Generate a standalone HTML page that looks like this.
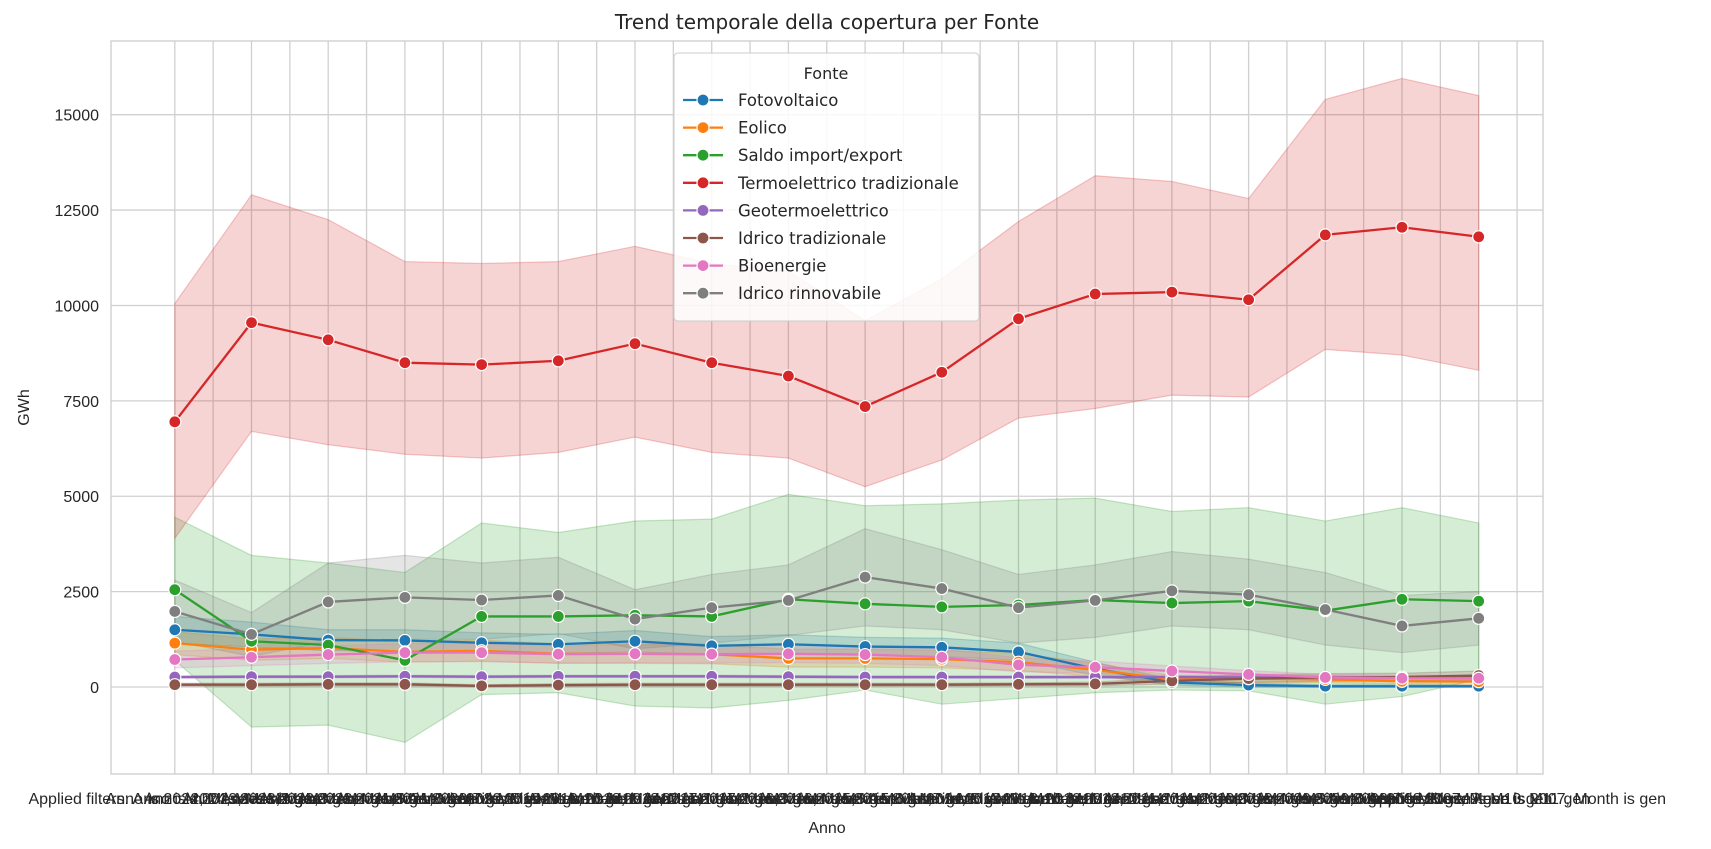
<!DOCTYPE html>
<html><head><meta charset="utf-8">
<style>
html,body{margin:0;padding:0;background:#fff;}
svg{display:block;font-family:"Liberation Sans",Arial,sans-serif;}
</style></head>
<body>
<svg id="chart" width="1711" height="849"></svg>
<script>
const categories=["2024","2023","2022","2021","2020","2019","2018","2017","2016","2015","2014","2013","2012","2011","2010","2009","2008","2007"];
const seriesNames=["Fotovoltaico","Eolico","Saldo import/export","Termoelettrico tradizionale","Geotermoelettrico","Idrico tradizionale","Bioenergie","Idrico rinnovabile"];
const colors=["#1f77b4","#ff7f0e","#2ca02c","#d62728","#9467bd","#8c564b","#e377c2","#7f7f7f"];
const fotoVals=[1500,1380,1230,1220,1160,1120,1200,1080,1120,1060,1040,920,480,120,50,20,20,20];
const fotoLo=[1150,1050,950,950,900,880,920,850,870,830,800,700,300,50,0,-10,-10,-10];
const fotoHi=[1850,1700,1500,1500,1420,1380,1480,1320,1370,1300,1280,1150,650,200,100,60,60,60];
const eolVals=[1150,980,1020,920,950,870,870,860,750,750,730,650,450,200,220,200,150,140];
const eolLo=[850,700,750,650,680,620,620,610,520,520,500,430,280,100,120,110,80,70];
const eolHi=[1450,1260,1300,1200,1230,1130,1130,1110,990,990,960,880,620,300,320,300,230,210];
const saldoVals=[2550,1200,1100,700,1850,1850,1880,1850,2300,2180,2100,2150,2280,2200,2250,2000,2300,2250];
const saldoLo=[700,-1050,-1000,-1450,-200,-150,-500,-550,-350,-80,-450,-300,-150,-80,-100,-450,-250,200];
const saldoHi=[4450,3450,3250,3000,4300,4050,4350,4400,5050,4750,4800,4900,4950,4600,4700,4350,4700,4300];
const termoVals=[6950,9550,9100,8500,8450,8550,9000,8500,8150,7350,8250,9650,10300,10350,10150,11850,12050,11800];
const termoLo=[3900,6700,6350,6100,6000,6150,6550,6150,6000,5250,5950,7050,7300,7650,7600,8850,8700,8300];
const termoHi=[10050,12900,12250,11150,11100,11150,11550,11100,10900,9600,10700,12200,13400,13250,12800,15400,15950,15500];
const geoVals=[260,270,270,280,270,280,280,280,270,260,260,260,260,260,250,250,250,250];
const geoLo=[230,240,240,250,240,250,250,250,240,230,230,230,230,230,220,220,220,220];
const geoHi=[290,300,300,310,300,310,310,310,300,290,290,290,290,290,280,280,280,280];
const idtVals=[60,60,70,70,30,50,60,60,60,60,60,70,80,160,220,250,260,300];
const idtLo=[20,20,30,30,0,10,20,20,20,20,20,30,30,80,120,150,160,180];
const idtHi=[100,100,110,110,60,90,100,100,100,100,100,110,130,240,320,350,360,420];
const bioVals=[720,780,850,900,900,860,870,860,870,850,780,580,520,420,330,250,230,230];
const bioLo=[500,560,620,660,660,630,640,630,640,620,560,400,360,290,230,170,150,150];
const bioHi=[940,1000,1080,1140,1140,1090,1100,1090,1100,1080,1000,760,680,550,430,330,310,310];
const idrVals=[1980,1380,2230,2350,2280,2400,1780,2080,2270,2880,2580,2080,2270,2520,2420,2030,1600,1800];
const idrLo=[1200,800,1200,1250,1250,1400,1000,1150,1350,1600,1500,1150,1300,1600,1500,1100,900,1100];
const idrHi=[2800,1950,3250,3450,3250,3400,2550,2950,3200,4150,3600,2950,3200,3550,3350,3000,2400,2500];
const yTicks=[0,2500,5000,7500,10000,12500,15000];
const xTickLabels=[];
for(let i=0;i<36;i++){
  const yr=2024-Math.floor(i/2);
  xTickLabels.push(i===0?"Applied filters: Anno is "+yr+", Mese is gen":(i===35?"Applied filters: Anno is 2007, Month is gen":"Anno is "+yr+", Mese is M"+(i%12+1)+" gen"));
}
const vals=[fotoVals,eolVals,saldoVals,termoVals,geoVals,idtVals,bioVals,idrVals];
const los=[fotoLo,eolLo,saldoLo,termoLo,geoLo,idtLo,bioLo,idrLo];
const his=[fotoHi,eolHi,saldoHi,termoHi,geoHi,idtHi,bioHi,idrHi];

const L=111,R=1543,T=41,B=774;
const x0=174.8,dx=76.7;
const xS=i=>x0+i*dx;
const y0=687,yk=(687-114.7)/15000;
const yS=v=>y0-v*yk;
const NS="http://www.w3.org/2000/svg";
const svg=document.getElementById('chart');
function mk(tag,attrs,parent){const e=document.createElementNS(NS,tag);for(const k in attrs)e.setAttribute(k,attrs[k]);(parent||svg).appendChild(e);return e;}
const DJ='"DejaVu Sans","Liberation Sans",sans-serif';

const grid=mk('g',{});


for(let i=0;i<36;i++){const x=xS(i*0.5);mk('line',{x1:x,x2:x,y1:T,y2:B,stroke:'#d0d0d0','stroke-width':1.3},grid);}
yTicks.forEach(v=>{mk('line',{x1:L,x2:R,y1:yS(v),y2:yS(v),stroke:'#d0d0d0','stroke-width':1.3},grid);});
const frame=mk('rect',{x:L,y:T,width:R-L,height:B-T,fill:'none',stroke:'#cccccc','stroke-width':1.3});



const yt=mk('g',{});


yTicks.forEach(v=>{const t=mk('text',{x:L-12,y:yS(v)+6,'text-anchor':'end','font-size':16,fill:'#262626'},yt);t.textContent=v;});
const xt=mk('g',{});


xTickLabels.forEach((s,i)=>{const t=mk('text',{x:xS(i*0.5),y:804,'text-anchor':'middle','font-size':16,fill:'#262626'},xt);t.textContent=s;});

const bands=mk('g',{});


const order=[0,1,2,3,4,5,6,7];
order.forEach(s=>{
  let d='';
  his[s].forEach((v,i)=>{d+=(i?'L':'M')+xS(i)+','+yS(v);});
  for(let i=los[s].length-1;i>=0;i--)d+='L'+xS(i)+','+yS(los[s][i]);
  d+='Z';
  const p=mk('path',{d:d,fill:colors[s],'fill-opacity':0.2,stroke:colors[s],'stroke-opacity':0.25,'stroke-width':1.2},bands);
  
  
});
order.forEach(s=>{
  const g=mk('g',{});
  
  
  const pts=vals[s].map((v,i)=>xS(i)+','+yS(v)).join(' ');
  mk('polyline',{points:pts,fill:'none',stroke:colors[s],'stroke-width':2.3},g);
  vals[s].forEach((v,i)=>{
    const c=mk('circle',{cx:xS(i),cy:yS(v),r:6,fill:colors[s],stroke:'#fff','stroke-width':1.2},g);
    
    
  });
});

const title=mk('text',{x:(L+R)/2,y:29,'text-anchor':'middle','font-size':20,fill:'#262626','font-family':DJ});
title.textContent='Trend temporale della copertura per Fonte';


const xl=mk('text',{x:(L+R)/2,y:833,'text-anchor':'middle','font-size':16,fill:'#262626'});
xl.textContent='Anno';


const yl=mk('text',{x:0,y:0,'text-anchor':'middle','font-size':16,fill:'#262626',transform:'translate(29,'+((T+B)/2)+') rotate(-90)'});
yl.textContent='GWh';



const lg=mk('g',{});


mk('rect',{x:674,y:53,width:305,height:268,rx:4,fill:'#fff','fill-opacity':0.85,stroke:'#cccccc'},lg);
const lt=mk('text',{x:826,y:79,'text-anchor':'middle','font-size':16,fill:'#262626','font-family':DJ},lg);
lt.textContent='Fonte';
seriesNames.forEach((n,s)=>{
  const y=100+s*27.6;
  const e=mk('g',{},lg);
  
  
  mk('line',{x1:683,x2:723,y1:y,y2:y,stroke:colors[s],'stroke-width':2.3},e);
  mk('circle',{cx:703,cy:y,r:6,fill:colors[s],stroke:'#fff','stroke-width':1.2},e);
  const t=mk('text',{x:738,y:y+6,'font-size':16.5,fill:'#262626','font-family':DJ},e);
  t.textContent=n;
});
</script>
</body></html>
